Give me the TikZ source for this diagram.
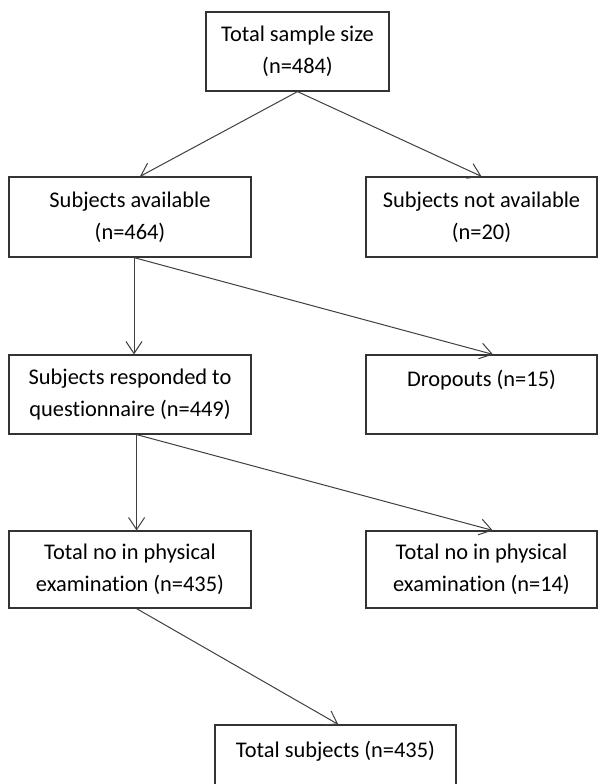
\documentclass[tikz,border=0pt]{standalone}
\usepackage{fontspec}
\setmainfont{Carlito}[Ligatures={NoCommon}]
\usepackage{tikz}
\usetikzlibrary{arrows.meta,positioning}
\definecolor{boxline}{HTML}{333333}
\definecolor{arrowline}{HTML}{404040}

\begin{document}
\begin{tikzpicture}[
  x=0.5pt, y=-0.5pt,
  font=\fontsize{11.2}{16}\selectfont,
  flowbox/.style={
    draw=boxline,
    line width=0.6pt,
    inner sep=0pt,
    align=center,
    minimum height=40pt
  },
  leftbox/.style={flowbox, minimum width=121pt},
  rightbox/.style={flowbox, minimum width=115.5pt},
  flowarrow/.style={
    draw=arrowline,
    line width=0.5pt,
    -{Straight Barb[length=6pt,width=8pt]}
  }
]
  \clip (0,0) rectangle (599,784);
  \fill[white] (0,0) rectangle (599,784);

  % --- top ---
  \node[flowbox, minimum width=91.5pt, minimum height=39.5pt] (total) at (297.5,51.5)
    {Total sample size\\(n=484)};

  % --- availability ---
  \node[leftbox] (avail) at (130,217) {Subjects available\\(n=464)};
  \node[rightbox] (notavail) at (481.5,217) {Subjects not available\\(n=20)};

  % --- questionnaire ---
  \node[leftbox, minimum height=39.5pt] (resp) at (130,394.5)
    {Subjects responded to\\questionnaire (n=449)};
  \node[rightbox, minimum height=39.5pt] (drop) at (481.5,394.5)
    {Dropouts (n=15)\\\mbox{}};

  % --- physical examination ---
  \node[leftbox, minimum height=38.5pt] (exam) at (130,569.5)
    {Total no in physical\\examination (n=435)};
  \node[rightbox, minimum height=38.5pt] (examno) at (481.5,569.5)
    {Total no in physical\\examination (n=14)};

  % --- final ---
  \node[flowbox, minimum width=120.5pt] (final) at (335.5,765)
    {Total subjects (n=435)\\\mbox{}};

  % Connectors
  \draw[flowarrow] (total.south) -- ([xshift=5pt]avail.north);
  \draw[flowarrow] (total.south) -- (notavail.north);

  \draw[flowarrow] ([xshift=2pt]avail.south) -- ([xshift=2pt]resp.north);
  \draw[flowarrow] ([xshift=2pt]avail.south) -- ([xshift=5.75pt]drop.north);

  \draw[flowarrow] ([xshift=3.3pt]resp.south) -- ([xshift=3.3pt]exam.north);
  \draw[flowarrow] ([xshift=3.3pt]resp.south) -- ([xshift=5.6pt]examno.north);

  \draw[flowarrow] ([xshift=3.3pt]exam.south) -- ([xshift=1.4pt]final.north);

\end{tikzpicture}
\end{document}
